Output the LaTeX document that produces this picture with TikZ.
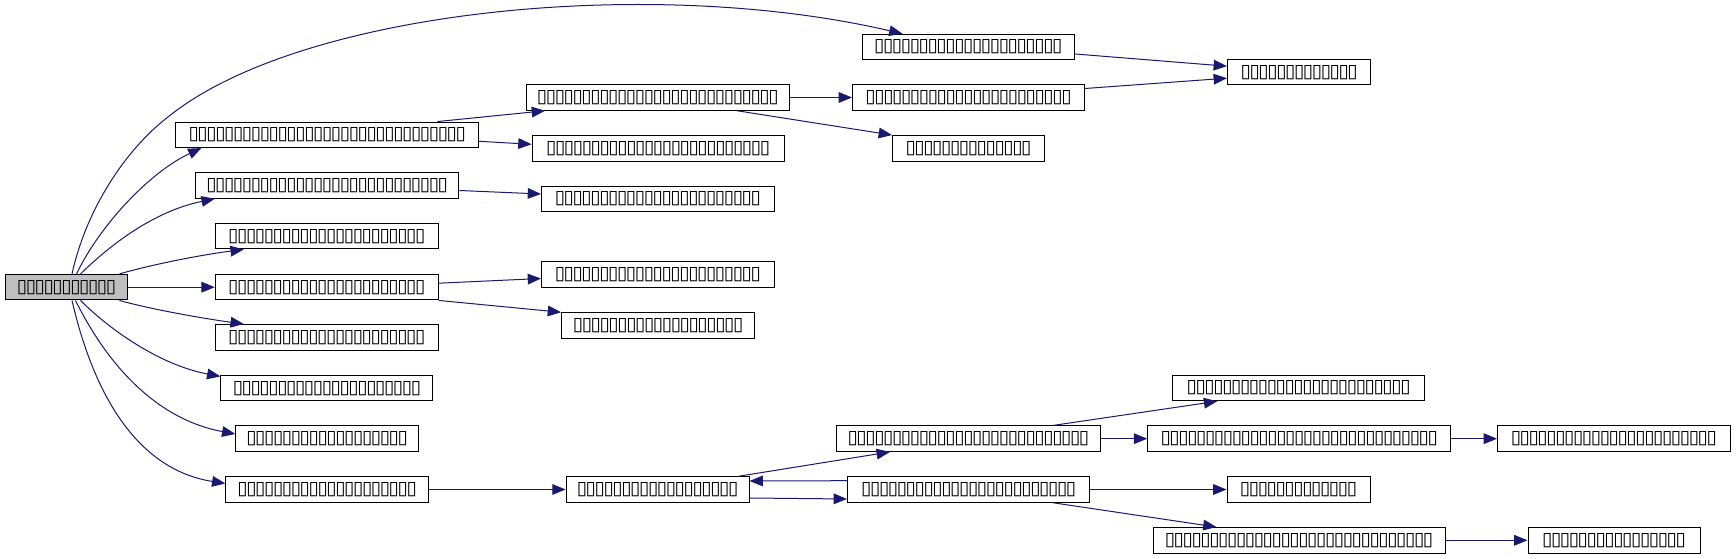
\documentclass[tikz,border=0pt]{standalone}
\usepackage{fontspec}
\newfontfamily\tofufont{DejaVu Sans}
\usetikzlibrary{arrows.meta,calc}
\definecolor{edgeblue}{HTML}{191970}
\definecolor{mainfill}{HTML}{BFBFBF}
\newcount\tfn
\newcommand\tf[1]{{\tofufont\fontsize{10}{10}\selectfont\tfn=0\relax\loop\ifnum\tfn<#1\relax\advance\tfn by 1\relax\makebox[6.675pt]{\resizebox{!}{9pt}{▯}}\repeat}}
\tikzset{
  fn/.style={draw=black, line width=0.75pt, minimum height=19.125pt, inner sep=0pt, text=black, fill=white},
  root/.style={fn, fill=mainfill},
  bw/.style={minimum width=#1*0.75pt},
  call/.style={draw=edgeblue, line width=0.75pt, -{Triangle[length=10pt,width=8pt]}, edgeblue},
}
\begin{document}
\begin{tikzpicture}[x=0.75pt,y=-0.75pt]
\useasboundingbox (0,0) rectangle (1736,559);
% nodes
\node[root, bw=122]  (m)   at (66.5,287.2)  {\tf{11}};
\node[fn, bw=212.6]  (A1)  at (968.3,47)    {\tf{21}};
\node[fn, bw=143.5]  (T)   at (1299.2,72.2) {\tf{13}};
\node[fn, bw=302.5]  (B)   at (327.2,134.8) {\tf{31}};
\node[fn, bw=262.5]  (B1)  at (657.8,97.5)  {\tf{27}};
\node[fn, bw=232]    (B1a) at (968.5,97.5)  {\tf{23}};
\node[fn, bw=152]    (B1b) at (968.5,148.3) {\tf{14}};
\node[fn, bw=252]    (B2)  at (658.1,148.3) {\tf{25}};
\node[fn, bw=263.6]  (C)   at (327.1,185.5) {\tf{27}};
\node[fn, bw=232.5]  (C1)  at (657.8,198.8) {\tf{23}};
\node[fn, bw=223]    (D)   at (326.8,236.2) {\tf{22}};
\node[fn, bw=223]    (E)   at (326.8,287.2) {\tf{22}};
\node[fn, bw=232.5]  (E1)  at (657.8,274.5) {\tf{23}};
\node[fn, bw=193]    (E2)  at (658.1,325.5) {\tf{19}};
\node[fn, bw=223]    (F)   at (326.8,337.3) {\tf{22}};
\node[fn, bw=212]    (G)   at (326.9,388.2) {\tf{21}};
\node[fn, bw=182.5]  (H)   at (327.1,438.7) {\tf{18}};
\node[fn, bw=202.5]  (I)   at (327.1,489.5) {\tf{20}};
\node[fn, bw=183]    (I1)  at (657.6,489.5) {\tf{18}};
\node[fn, bw=264]    (J)   at (968.4,438.7) {\tf{27}};
\node[fn, bw=251.7]  (J1)  at (1298.6,388)  {\tf{25}};
\node[fn, bw=303]    (J2)  at (1299.2,438.7) {\tf{31}};
\node[fn, bw=232.5]  (J2a) at (1613.8,438.7) {\tf{23}};
\node[fn, bw=242.4]  (K)   at (968.7,489.5) {\tf{24}};
\node[fn, bw=143]    (K1)  at (1298.5,489.5) {\tf{13}};
\node[fn, bw=292]    (K2)  at (1299,540.3)  {\tf{30}};
\node[fn, bw=172]    (K2a) at (1614,540.3)  {\tf{16}};
% edges from root
\draw[call] ($(m.north)+(5.5,0)$) .. controls (86,210) and (125,150) .. (168,117)
   .. controls (300,10) and (650,-25) .. ($(A1.north west)+(41,0)$);
\draw[call] ($(m.north)+(10,0)$) .. controls (100,225) and (150,172) .. ($(B.south west)+(26,0)$);
\draw[call] ($(m.north)+(14,0)$) .. controls (105,250) and (150,212) .. ($(C.south west)+(20,0)$);
\draw[call] ($(m.north east)+(-8.6,0)$) .. controls (150,265) and (200,255) .. ($(D.south west)+(29,0)$);
\draw[call] (m.east) -- (E.west);
\draw[call] ($(m.south east)+(-8.6,0)$) .. controls (150,309) and (200,318) .. ($(F.north west)+(29,0)$);
\draw[call] ($(m.south)+(14,0)$) .. controls (110,330) and (160,365) .. ($(G.north west)+(0,1.5)$);
\draw[call] ($(m.south)+(9,0)$) .. controls (110,370) and (160,420) .. ($(H.west)+(0,-4.7)$);
\draw[call] ($(m.south)+(5.5,0)$) .. controls (95,400) and (140,470) .. ($(I.west)+(0,-6)$);
% other edges
\draw[call] ($(A1.east)+(0,7)$) -- ($(T.west)+(0,-6)$);
\draw[call] ($(B1a.east)+(0,-9)$) -- ($(T.west)+(0,6)$);
\draw[call] ($(B.north west)+(262,0)$) -- ($(B1.south west)+(19,0)$);
\draw[call] ($(B.east)+(0,6.5)$) -- ($(B2.west)+(0,-4)$);
\draw[call] (B1.east) -- (B1a.west);
\draw[call] ($(B1.south west)+(211,0)$) -- (B1b.north west);
\draw[call] ($(C.east)+(0,5)$) -- ($(C1.west)+(0,-4.8)$);
\draw[call] ($(E.east)+(0,-4)$) -- ($(E1.west)+(0,4)$);
\draw[call] (E.south east) -- (E2.north west);
\draw[call] (I.east) -- (I1.west);
\draw[call] ($(I1.north east)+(-11,0)$) -- ($(J.south west)+(54,0)$);
\draw[call] ($(K.west)+(0,-8.8)$) -- ($(I1.east)+(0,-8.5)$);
\draw[call] ($(I1.east)+(0,8.5)$) -- ($(K.west)+(0,9.5)$);
\draw[call] ($(J.north west)+(217,0)$) -- ($(J1.south west)+(45,0)$);
\draw[call] (J.east) -- (J2.west);
\draw[call] (J2.east) -- (J2a.west);
\draw[call] (K.east) -- (K1.west);
\draw[call] ($(K.south west)+(206,0)$) -- ($(K2.north west)+(64,0)$);
\draw[call] (K2.east) -- (K2a.west);
\end{tikzpicture}
\end{document}
